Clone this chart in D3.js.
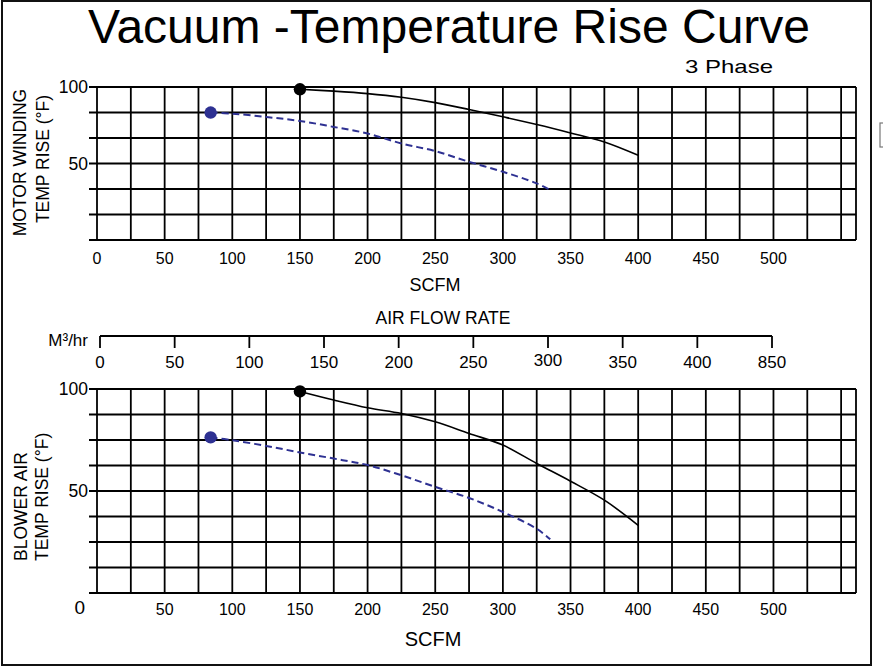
<!DOCTYPE html>
<html>
<head>
<meta charset="utf-8">
<script src="https://cdn.jsdelivr.net/npm/d3@7"></script>
<style>
  html, body { margin: 0; padding: 0; background: #fff; }
  svg { display: block; font-family: "Liberation Sans", Arial, Helvetica, sans-serif; }
</style>
</head>
<body>
<svg id="chart" width="883" height="667"></svg>
<script>
// ---------------- data ----------------
const scfmTickValues = [0, 50, 100, 150, 200, 250, 300, 350, 400, 450, 500];
const scfmGridStep = 25;

// Motor winding temp rise (top chart)
const motorSolidScfm = [150, 175, 200, 225, 250, 275, 300, 325, 350, 375, 400];
const motorSolidTemp = [98.5, 97.3, 95.7, 93.3, 89.8, 85.3, 80.5, 75.5, 70.0, 64.1, 55.4];
const motorDashScfm = [84, 100, 125, 150, 175, 200, 225, 250, 275, 300, 325, 335];
const motorDashTemp = [83.3, 82.6, 80.4, 77.8, 73.9, 69.6, 63.1, 58.1, 51.1, 44.6, 37.0, 32.6];

// Blower air temp rise (bottom chart)
const blowerSolidScfm = [150, 175, 200, 225, 250, 275, 300, 325, 350, 375, 400];
const blowerSolidTemp = [98.8, 94.6, 90.8, 88.0, 83.9, 78.2, 72.5, 63.5, 54.8, 45.5, 33.2];
const blowerDashScfm = [84, 100, 125, 150, 175, 200, 225, 250, 275, 300, 325, 335];
const blowerDashTemp = [76.3, 74.9, 72.1, 68.9, 65.9, 62.7, 57.7, 52.0, 46.6, 39.7, 31.5, 26.3];

// Air flow rate axis (M³/hr)
const m3TickValues = [0, 50, 100, 150, 200, 250, 300, 350, 400, 450];
const m3TickLabels = ["0", "50", "100", "150", "200", "250", "300", "350", "400", "850"];

const topYLabels = [50, 100];
const bottomYLabels = [0, 50, 100];

// ---------------- drawing ----------------
const svg = d3.select("#chart");
const BLUE = "#2e3192";

// outer frame
svg.append("rect").attr("x", 2).attr("y", 1).attr("width", 869).attr("height", 664)
  .attr("fill", "none").attr("stroke", "#111").attr("stroke-width", 2);
// small clipped mark at right edge
svg.append("rect").attr("x", 880).attr("y", 123).attr("width", 4).attr("height", 24)
  .attr("fill", "none").attr("stroke", "#777").attr("stroke-width", 1.2);

// title
svg.append("text").attr("x", 449).attr("y", 43).attr("text-anchor", "middle")
  .attr("font-size", 48).text("Vacuum -Temperature Rise Curve");
svg.append("text").attr("x", 685).attr("y", 73).attr("font-size", 19)
  .attr("textLength", 88).attr("lengthAdjust", "spacingAndGlyphs").text("3 Phase");

const x = d3.scaleLinear().domain([0, 561]).range([97, 856]);

function panel(opts) {
  const y = d3.scaleLinear().domain([0, 100]).range([opts.bottom, opts.top]);
  const g = svg.append("g");
  // horizontal grid
  const hs = d3.range(0, 100.001, opts.yStep);
  g.selectAll("line.h").data(hs).join("line")
    .attr("x1", x(0) - 8).attr("x2", x.range()[1])
    .attr("y1", d => y(d)).attr("y2", d => y(d))
    .attr("stroke", "#000").attr("stroke-width", 1.8);
  // vertical grid
  const vs = d3.range(0, 551, scfmGridStep).concat([561]);
  g.selectAll("line.v").data(vs).join("line")
    .attr("x1", d => x(d)).attr("x2", d => x(d))
    .attr("y1", y(100)).attr("y2", y(0))
    .attr("stroke", "#000").attr("stroke-width", 1.8);

  // x tick labels
  g.selectAll("text.xt").data(scfmTickValues.filter(v => opts.showX0 || v !== 0)).join("text")
    .attr("x", d => x(d)).attr("y", opts.xLabelY).attr("text-anchor", "middle")
    .attr("font-size", 16).text(d => d);
  // x axis title
  g.append("text").attr("x", opts.scfmX).attr("y", opts.scfmY).attr("text-anchor", "middle")
    .attr("font-size", opts.scfmSize).text("SCFM");
  // y tick labels
  g.selectAll("text.yt").data(opts.yLabels).join("text")
    .attr("x", d => d === 0 ? 85 : 88)
    .attr("y", d => d === 0 ? opts.bottom + 21 : y(d) + 6)
    .attr("text-anchor", "end").attr("font-size", d => d === 0 ? 19 : 17.5).text(d => d);
  // y axis title (two lines, rotated)
  opts.yTitle.forEach((t, i) => {
    g.append("text")
      .attr("transform", `translate(${t.bx},${t.by}) rotate(-90)`)
      .attr("text-anchor", t.anchor).attr("font-size", 17.5).text(t.text);
  });

  const line = d3.line().x(d => x(d[0])).y(d => y(d[1])).curve(d3.curveCatmullRom.alpha(0.5));
  const solid = d3.zip(opts.solidX, opts.solidY);
  const dash = d3.zip(opts.dashX, opts.dashY);
  g.append("path").attr("d", line(dash)).attr("fill", "none")
    .attr("stroke", BLUE).attr("stroke-width", 2).attr("stroke-dasharray", "7,4");
  g.append("path").attr("d", line(solid)).attr("fill", "none")
    .attr("stroke", "#000").attr("stroke-width", 1.6);
  g.append("circle").attr("cx", x(dash[0][0])).attr("cy", y(dash[0][1])).attr("r", 6.2).attr("fill", BLUE);
  g.append("circle").attr("cx", x(solid[0][0])).attr("cy", y(solid[0][1])).attr("r", 6.2).attr("fill", "#000");
}

panel({
  top: 87, bottom: 240, yStep: 100 / 6, showX0: true, xLabelY: 264,
  scfmX: 435, scfmY: 291, scfmSize: 18, yLabels: topYLabels,
  yTitle: [
    { text: "MOTOR WINDING", bx: 25.5, by: 162.5, anchor: "middle" },
    { text: "TEMP RISE (°F)", bx: 48.5, by: 159, anchor: "middle" }
  ],
  solidX: motorSolidScfm, solidY: motorSolidTemp,
  dashX: motorDashScfm, dashY: motorDashTemp
});

panel({
  top: 389, bottom: 593, yStep: 12.5, showX0: false, xLabelY: 615,
  scfmX: 433, scfmY: 646, scfmSize: 20, yLabels: bottomYLabels,
  yTitle: [
    { text: "BLOWER AIR", bx: 26.5, by: 561, anchor: "start" },
    { text: "TEMP RISE (°F)", bx: 47.5, by: 561, anchor: "start" }
  ],
  solidX: blowerSolidScfm, solidY: blowerSolidTemp,
  dashX: blowerDashScfm, dashY: blowerDashTemp
});

// Air flow rate axis (M³/hr)
const m3 = d3.scaleLinear().domain([0, 450]).range([100, 772]);
const axisY = 336;
svg.append("line").attr("x1", m3(0)).attr("x2", m3(450)).attr("y1", axisY).attr("y2", axisY)
  .attr("stroke", "#000").attr("stroke-width", 1.8);
svg.selectAll("line.m3t").data(m3TickValues).join("line")
  .attr("x1", d => m3(d)).attr("x2", d => m3(d)).attr("y1", axisY).attr("y2", axisY + 12)
  .attr("stroke", "#000").attr("stroke-width", 1.8);
svg.selectAll("text.m3l").data(m3TickValues).join("text")
  .attr("x", d => m3(d)).attr("y", (d, i) => m3TickLabels[i] === "300" ? 366 : 368)
  .attr("text-anchor", "middle").attr("font-size", 17).text((d, i) => m3TickLabels[i]);
svg.append("text").attr("x", 88).attr("y", 346).attr("text-anchor", "end")
  .attr("font-size", 17).text("M³/hr");
svg.append("text").attr("x", 443).attr("y", 324).attr("text-anchor", "middle")
  .attr("font-size", 17.5).text("AIR FLOW RATE");
</script>
</body>
</html>
